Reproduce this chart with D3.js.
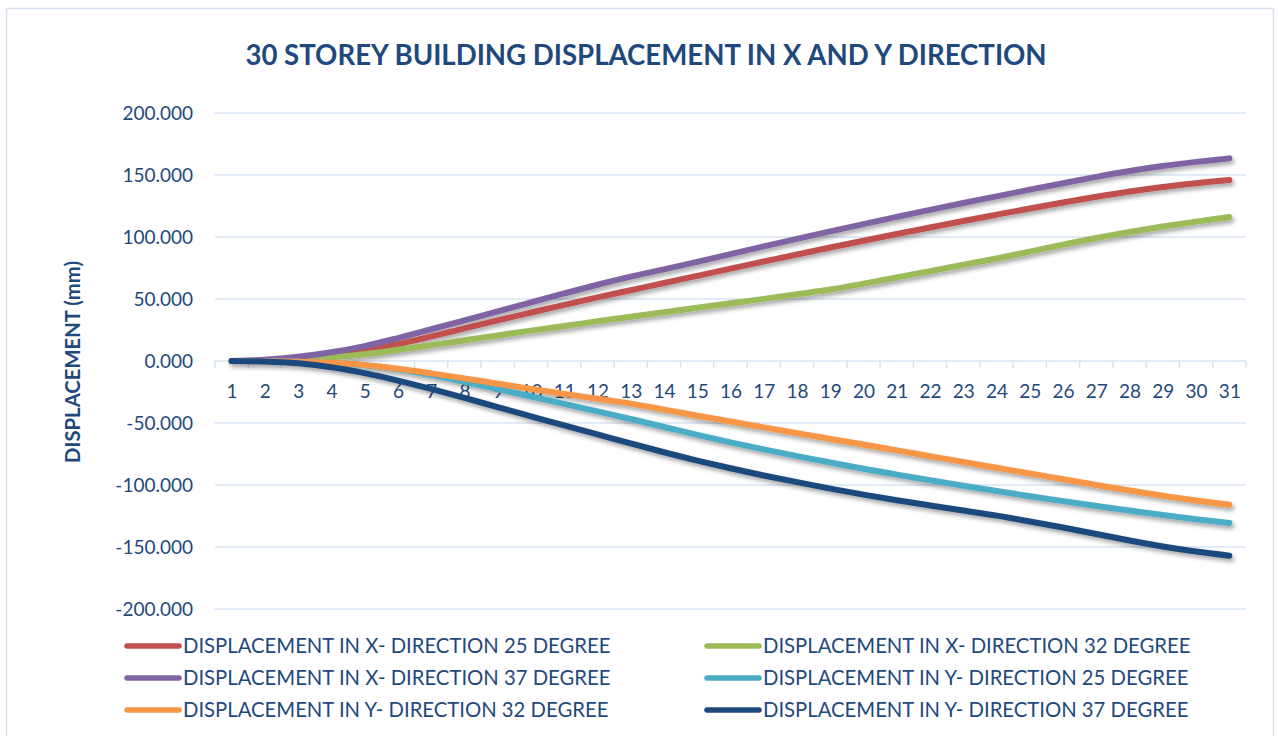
<!DOCTYPE html>
<html>
<head>
<meta charset="utf-8">
<script src="https://d3js.org/d3.v7.min.js"></script>
<style>
  html, body { margin: 0; padding: 0; background: #ffffff; }
  svg { display: block; }
</style>
</head>
<body>
<svg id="chart" width="1278" height="736"></svg>
<script>
// ---------- DATA ----------
const storeys = d3.range(1, 32); // 1..31
const yTicks = [-200, -150, -100, -50, 0, 50, 100, 150, 200];

const xDir25 = [0, 0.5, 1.8, 4.5, 8.5, 13.6, 19.8, 26.3, 32.8, 39.1, 45.3, 51.3, 57.1, 62.9, 68.7, 74.5, 80.2, 85.9, 91.5, 97.0, 102.4, 107.7, 112.9, 118.0, 123.0, 127.8, 132.4, 136.7, 140.4, 143.4, 146];
const xDir32 = [0, 0, 0.4, 2.8, 5.5, 9, 12.8, 16.7, 20.6, 24.5, 28.2, 32, 35.7, 39.3, 42.9, 46.5, 50.1, 53.8, 57.6, 62.4, 67.4, 72.5, 77.6, 82.7, 88.2, 93.8, 99.2, 104.0, 108.4, 112.4, 116.1];
const xDir37 = [0, 1, 3.4, 7, 12, 18.5, 25.6, 32.8, 40, 47.3, 54.5, 61.5, 68, 73.9, 80, 86.2, 92.4, 98.5, 104.5, 110.4, 116.2, 121.9, 127.4, 132.8, 138.2, 143.4, 148.5, 153.2, 157.3, 160.6, 163.4];
const yDir25 = [0, -0.2, -0.6, -1.6, -3.4, -6.6, -11.2, -16.8, -22.6, -28.6, -34.6, -40.6, -46.8, -53.2, -59.6, -65.6, -71.3, -76.7, -81.9, -86.9, -91.6, -96.2, -100.6, -104.9, -109, -113, -116.9, -120.6, -124.2, -127.6, -130.6];
const yDir32 = [0, -0.2, -0.6, -1.5, -3.3, -6.3, -10, -14, -18.3, -22.5, -26.5, -30.5, -34.4, -39.2, -44.1, -48.8, -53.5, -58.2, -62.8, -67.4, -72.1, -76.8, -81.5, -86.1, -90.7, -95.3, -100, -104.5, -108.6, -112.5, -115.9];
const yDir37 = [0, -0.4, -1.9, -5, -9.8, -15.8, -22.5, -29.7, -37.2, -44.6, -52, -59.2, -66.5, -73.6, -80.3, -86.5, -92.3, -97.7, -102.9, -107.8, -112.3, -116.5, -120.6, -124.7, -129.4, -134.3, -139.5, -144.8, -149.6, -153.7, -157];

const seriesNames = [
  "DISPLACEMENT IN X- DIRECTION 25 DEGREE",
  "DISPLACEMENT IN X- DIRECTION 32 DEGREE",
  "DISPLACEMENT IN X- DIRECTION 37 DEGREE",
  "DISPLACEMENT IN Y- DIRECTION 25 DEGREE",
  "DISPLACEMENT IN Y- DIRECTION 32 DEGREE",
  "DISPLACEMENT IN Y- DIRECTION 37 DEGREE"
];
const seriesValues = [xDir25, xDir32, xDir37, yDir25, yDir32, yDir37];
const seriesColors = ["#C0504D", "#9BBB59", "#8064A2", "#4BACC6", "#F79646", "#1F497D"];

const titleText = "30 STOREY BUILDING DISPLACEMENT IN X AND Y DIRECTION";
const yAxisTitle = "DISPLACEMENT (mm)";

// ---------- LAYOUT ----------
const plot = { left: 215, right: 1246, top: 113, bottom: 609 };
const textColor = "#1F497D";
const gridColor = "#D9E3F2";
const font = "Lato, 'Open Sans', sans-serif";

const svg = d3.select("#chart");

const defs = svg.append("defs");
const f = defs.append("filter").attr("id", "shadow")
  .attr("x", "-5%").attr("y", "-20%").attr("width", "110%").attr("height", "140%");
f.append("feDropShadow").attr("dx", 2).attr("dy", 3).attr("stdDeviation", 2)
  .attr("flood-color", "#000").attr("flood-opacity", 0.35);

// chart border
svg.append("rect").attr("x", 6.5).attr("y", 8.5).attr("width", 1267).attr("height", 740)
  .attr("fill", "#fff").attr("stroke", "#D6E0EE").attr("stroke-width", 1.5);

const x = d3.scalePoint().domain(storeys).range([plot.left, plot.right]).padding(0.5);
const y = d3.scaleLinear().domain([-200, 200]).range([plot.bottom, plot.top]);

// gridlines
svg.append("g").selectAll("line").data(yTicks.filter(d => d !== 0)).join("line")
  .attr("x1", plot.left).attr("x2", plot.right)
  .attr("y1", d => y(d)).attr("y2", d => y(d))
  .attr("stroke", gridColor).attr("stroke-width", 1.5);

// y axis labels (hyphen-minus as in reference)
const fmt = d3.format(".3f");
const yAxis = d3.axisLeft(y).tickValues(yTicks).tickSize(0).tickPadding(0)
  .tickFormat(d => fmt(d).replace("\u2212", "-"));
const yg = svg.append("g").attr("transform", `translate(${plot.left - 22},0)`).call(yAxis);
yg.select(".domain").remove();
yg.selectAll("text").attr("fill", textColor).attr("font-family", font).attr("font-size", 19)
  .attr("dy", "0.35em");

// x axis at zero
const step = x.step();
const xAxisG = svg.append("g");
xAxisG.append("line").attr("x1", plot.left).attr("x2", plot.right)
  .attr("y1", y(0)).attr("y2", y(0)).attr("stroke", gridColor).attr("stroke-width", 1.5);
xAxisG.selectAll("line.tk").data(d3.range(storeys.length + 1)).join("line")
  .attr("class", "tk")
  .attr("x1", i => plot.left + i * step).attr("x2", i => plot.left + i * step)
  .attr("y1", y(0)).attr("y2", y(0) + 7)
  .attr("stroke", gridColor).attr("stroke-width", 1.5);
const xAxis = d3.axisBottom(x).tickSize(0).tickPadding(0);
const xg = svg.append("g").attr("transform", `translate(0,${y(0)})`).call(xAxis);
xg.select(".domain").remove();
xg.selectAll("text").attr("fill", textColor).attr("font-family", font).attr("font-size", 19)
  .attr("dy", null).attr("y", 37);

// lines
const line = d3.line().x((d, i) => x(storeys[i])).y(d => y(d)).curve(d3.curveCatmullRom.alpha(0.5));
svg.append("g").attr("filter", "url(#shadow)").selectAll("path").data(d3.range(seriesValues.length)).join("path")
  .attr("d", i => line(seriesValues[i]))
  .attr("fill", "none")
  .attr("stroke", i => seriesColors[i])
  .attr("stroke-width", 6)
  .attr("stroke-linecap", "round")
  .attr("stroke-linejoin", "round");

// title
svg.append("text").attr("x", 646).attr("y", 65).attr("text-anchor", "middle")
  .attr("font-family", font).attr("font-weight", "bold").attr("font-size", 27.6)
  .attr("fill", textColor).text(titleText);

// y axis title
svg.append("text").attr("transform", "translate(80,362) rotate(-90)")
  .attr("text-anchor", "middle").attr("font-family", font).attr("font-weight", "bold")
  .attr("font-size", 20.3).attr("fill", textColor).text(yAxisTitle);

// legend (row-major, two columns)
const legendPos = [
  { lx: 125, ty: 646 }, { lx: 705, ty: 646 },
  { lx: 125, ty: 678 }, { lx: 705, ty: 678 },
  { lx: 125, ty: 710 }, { lx: 705, ty: 710 }
];
const legendOrder = [0, 1, 2, 3, 4, 5];
const lg = svg.append("g").selectAll("g").data(legendOrder).join("g")
  .attr("transform", (d, k) => `translate(${legendPos[k].lx},${legendPos[k].ty})`);
lg.append("line").attr("x1", 2).attr("x2", 54).attr("y1", 0).attr("y2", 0)
  .attr("stroke", d => seriesColors[d]).attr("stroke-width", 5.5).attr("stroke-linecap", "round");
lg.append("text").attr("x", 58).attr("y", 0).attr("dy", "0.36em")
  .attr("font-family", font).attr("font-size", 20.3).attr("fill", textColor)
  .text(d => seriesNames[d]);
</script>
</body>
</html>
